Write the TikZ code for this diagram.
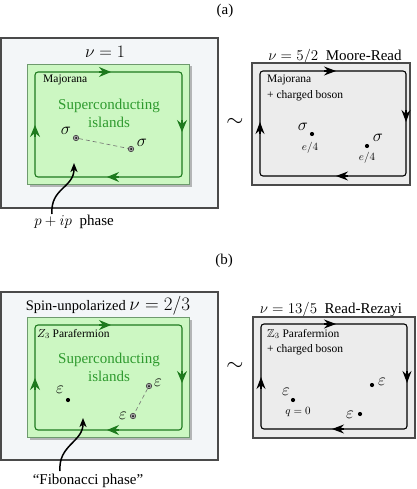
\RequirePackage{fix-cm}
\documentclass[tikz,border=0pt]{standalone}
\usepackage{fontspec}
\setmainfont{Liberation Serif}
\usepackage{amssymb}
\usetikzlibrary{arrows.meta,shadows}
\definecolor{outerfill}{HTML}{F3F6F8}
\definecolor{outerdraw}{HTML}{4A4A4A}
\definecolor{greenfill}{HTML}{CCF7C2}
\definecolor{greendraw}{HTML}{6E9A6E}
\definecolor{loopgreen}{HTML}{1E7A1E}
\definecolor{textgreen}{HTML}{2E9A2E}
\definecolor{grayfill}{HTML}{ECECEC}
\begin{document}
\begin{tikzpicture}[x=1pt,y=-1pt,
  outerbox/.style={draw=outerdraw, line width=1.4pt, fill=outerfill},
  islandbox/.style={draw=greendraw, line width=0.9pt, fill=greenfill,
    drop shadow={shadow xshift=2.5pt, shadow yshift=-2.5pt, fill=black!50, opacity=0.55}},
  graybox/.style={draw=outerdraw, line width=1.2pt, fill=grayfill},
  greenloop/.style={draw=loopgreen, line width=1.1pt, rounded corners=3pt},
  blackloop/.style={draw=black, line width=1.1pt, rounded corners=3pt},
  gtip/.style={draw=loopgreen, line width=1.1pt, -{Stealth[length=12pt,width=10pt,inset=4pt]}},
  btip/.style={draw=black, line width=1.1pt, -{Stealth[length=12pt,width=9pt,inset=4pt]}},
  big/.style={font=\fontsize{15}{18}\selectfont, inner sep=0pt},
  small/.style={font=\fontsize{11.5}{13}\selectfont, inner sep=0pt},
  isl/.style={font=\fontsize{15}{18}\selectfont, text=textgreen, inner sep=0pt},
  cdot/.style={circle, draw=black!75, fill=black!35, line width=0.6pt, inner sep=0pt, minimum size=5.5pt,
    path picture={\fill[black] (path picture bounding box.center) circle (1pt);}},
  bdot/.style={circle, fill=black, inner sep=0pt, minimum size=4.2pt},
  dashl/.style={draw=black!55, line width=0.6pt, dash pattern=on 4pt off 3pt},
  pointer/.style={draw=black, line width=1.5pt, -{Stealth[length=9pt,width=7pt,inset=2.5pt]}},
  symb/.style={font=\fontsize{17}{20}\selectfont, inner sep=0pt},
  lab/.style={font=\fontsize{11}{13}\selectfont, inner sep=0pt}
]
\useasboundingbox (0,0) rectangle (416,489);

% ================= (a) =================
\node[big, anchor=base] (la) at (225,15) {(a)};

\draw[outerbox] (1,38) rectangle (218,208);
\node[font=\fontsize{17.5}{20}\selectfont, inner sep=0pt, anchor=base] (nu1) at (105,58) {$\nu=1$};
\draw[islandbox] (27,64) rectangle (189,184);
\draw[greenloop] (35,72) rectangle (182,177);
\draw[gtip] (99,72) -- (111,72);
\draw[gtip] (182,120) -- (182,132);
\draw[gtip] (119,177) -- (107,177);
\draw[gtip] (35,137) -- (35,125);
\node[small, anchor=base west] (maj1) at (43,83) {Majorana};
\node[isl, anchor=base] (sc1a) at (109,110) {Superconducting};
\node[isl, anchor=base] (sc1b) at (109,128) {islands};
\node[cdot] (s1) at (76,138) {};
\node[cdot] (s2) at (131,149) {};
\draw[dashl] (s1) -- (s2);
\node[symb] (sig1) at (66,131) {$\sigma$};
\node[symb] (sig2) at (142,143) {$\sigma$};
\coordinate (pa) at (52,214);
\draw[pointer] (pa) .. controls (50,188) and (74,188) .. (74,163);
\node[big, anchor=base] (pip) at (74,225) {$p+ip$\ \ phase};

\node[font=\fontsize{22}{24}\selectfont, inner sep=0pt] (sima) at (235,122) {$\sim$};

\node[big, anchor=base] (mr) at (335,61) {$\nu=5/2$\ \ Moore-Read};
\draw[graybox] (252,63) rectangle (410,185);
\draw[blackloop] (260,71) rectangle (406,176);
\draw[btip] (324,71) -- (336,71);
\draw[btip] (406,110) -- (406,122);
\draw[btip] (348,176) -- (336,176);
\draw[btip] (260,134) -- (260,122);
\node[small, anchor=base west] (maj2) at (267,83) {Majorana};
\node[small, anchor=base west] (cb2) at (267,99) {+ charged boson};
\node[bdot] (d1) at (312,134) {};
\node[symb] (sig3) at (303,127) {$\sigma$};
\node[lab] (e1) at (310,148) {$e/4$};
\node[bdot] (d2) at (367,146) {};
\node[symb] (sig4) at (378,138) {$\sigma$};
\node[lab] (e2) at (367,158) {$e/4$};

% ================= (b) =================
\node[big, anchor=base] (lb) at (224,264) {(b)};

\draw[outerbox] (1,292) rectangle (218,460);
\node[font=\fontsize{14.5}{18}\selectfont, inner sep=0pt, anchor=base] (spin) at (108,310) {Spin-unpolarized \fontsize{19}{22}\selectfont$\nu=2/3$};
\draw[islandbox] (27,317) rectangle (189,437);
\draw[greenloop] (35,325) rectangle (182,430);
\draw[gtip] (99,325) -- (111,325);
\draw[gtip] (182,371) -- (182,383);
\draw[gtip] (119,430) -- (107,430);
\draw[gtip] (35,390) -- (35,378);
\node[small, anchor=base west] (z3a) at (37,337) {$Z_3$ Parafermion};
\node[isl, anchor=base] (sc2a) at (109,363) {Superconducting};
\node[isl, anchor=base] (sc2b) at (109,381) {islands};
\node[bdot] (f1) at (68,400) {};
\node[symb] (ep1) at (60,390) {$\varepsilon$};
\node[cdot] (c1) at (149,386) {};
\node[cdot] (c2) at (133,416) {};
\draw[dashl] (c1) -- (c2);
\node[symb] (ep2) at (158,383) {$\varepsilon$};
\node[symb] (ep3) at (123,416) {$\varepsilon$};
\coordinate (pb) at (60,471);
\draw[pointer] (pb) .. controls (58,445) and (83,442) .. (83,418);
\node[big, anchor=base] (fib) at (88,484) {``Fibonacci phase''};

\node[font=\fontsize{22}{24}\selectfont, inner sep=0pt] (simb) at (235,366) {$\sim$};

\node[big, anchor=base] (rr) at (331,313) {$\nu=13/5$\ \ Read-Rezayi};
\draw[graybox] (253,317) rectangle (415,438);
\draw[blackloop] (261,324) rectangle (407,429);
\draw[btip] (324,324) -- (336,324);
\draw[btip] (407,371) -- (407,383);
\draw[btip] (344,429) -- (332,429);
\draw[btip] (261,389) -- (261,377);
\node[small, anchor=base west] (z3b) at (267,337) {$\mathbb{Z}_3$ Parafermion};
\node[small, anchor=base west] (cb3) at (267,352) {+ charged boson};
\node[bdot] (g1) at (293,400) {};
\node[symb] (ep4) at (286,392) {$\varepsilon$};
\node[lab] (q0) at (298,412) {$q=0$};
\node[bdot] (g2) at (372,385) {};
\node[symb] (ep5) at (382,382) {$\varepsilon$};
\node[bdot] (g3) at (360,414) {};
\node[symb] (ep6) at (350,415) {$\varepsilon$};
\end{tikzpicture}
\end{document}
